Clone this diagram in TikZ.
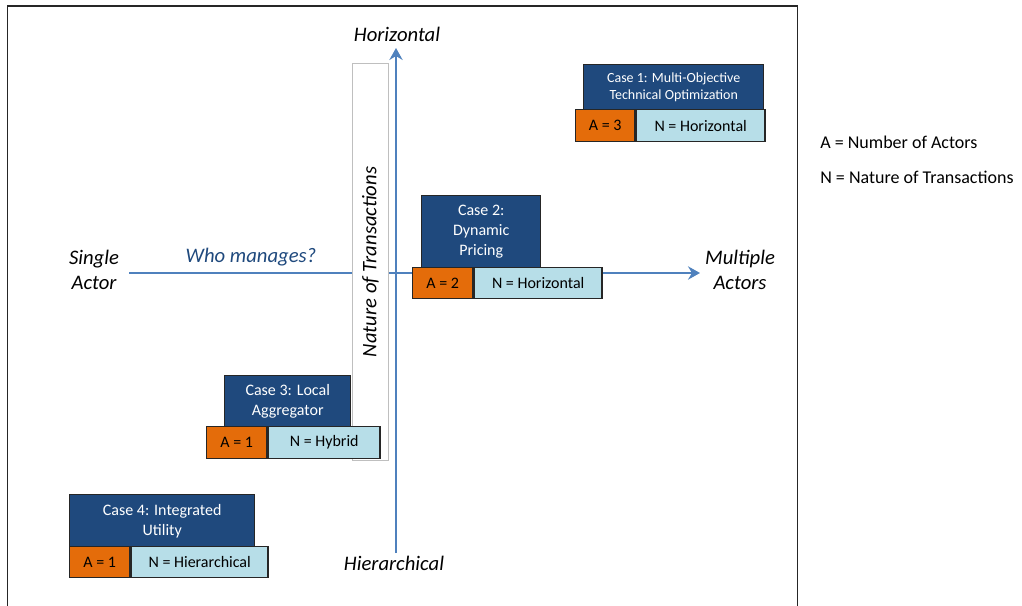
\documentclass[tikz,border=0pt]{standalone}
\usepackage{fontspec}
\setmainfont{Carlito}
\usetikzlibrary{arrows.meta}

\definecolor{casenavy}{RGB}{31,73,125}
\definecolor{axisblue}{RGB}{79,129,189}
\definecolor{actorange}{RGB}{228,108,10}
\definecolor{natlight}{RGB}{183,222,232}
\definecolor{panelgray}{RGB}{191,191,191}
\newcommand{\px}{0.75pt}

\tikzset{
    tile/.style={draw=black!85, line width=1.1pt, inner sep=0pt, anchor=north west, align=center},
    casebox/.style={tile, fill=casenavy, text=white, font=\fontsize{12}{15}\selectfont},
    actbox/.style={tile, fill=actorange, font=\fontsize{12}{15}\selectfont},
    natbox/.style={tile, fill=natlight, font=\fontsize{12}{15}\selectfont},
    axislabel/.style={align=center, font=\fontsize{15.5}{18.75}\selectfont\itshape},
    axisline/.style={draw=axisblue, line width=1.5pt, -{Stealth[length=9pt, width=10pt, inset=3pt]}},
    legendtext/.style={anchor=west, inner sep=0pt, font=\fontsize{13.5}{16}\selectfont}
}

\begin{document}
\begin{tikzpicture}[x=\px, y=-\px]
        \useasboundingbox (0,0) rectangle (1022,606);
        % frame, open at the bottom
        \draw[black!85, line width=1.1pt] (7.5,606) -- (7.5,6) -- (797.5,6) -- (797.5,606);

        % axes
        \coordinate (left) at (129,273);
        \coordinate (right) at (700,273);
        \coordinate (bottom) at (396,553);
        \coordinate (top) at (396,48);
        \draw[axisline] (left) -- (right);
        \draw[axisline] (bottom) -- (top);

        \node[axislabel] (horiz) at (397,34) {Horizontal};
        \node[axislabel] (hier) at (394,563) {Hierarchical};
        \node[axislabel] (single) at (94,270) {Single\\Actor};
        \node[axislabel] (multi) at (740,270) {Multiple\\Actors};
        \node[axislabel, text=casenavy] (who) at (251,257) {Who manages?};

        \node[draw=panelgray, fill=white, line width=0.75pt, inner sep=0pt, anchor=north west,
              minimum width=36*\px, minimum height=397*\px] (nature) at (352,63) {};
        \node[axislabel, rotate=90] (naturetext) at (nature.center) {Nature of Transactions};

        % case 1
        \node[casebox, minimum width=180*\px, minimum height=45*\px,
              font=\fontsize{10.5}{12.75}\selectfont] (case1) at (583,64)
              {Case 1: Multi-Objective\\Technical Optimization};
        \node[actbox, minimum width=59*\px, minimum height=32*\px] (act1) at (575,109) {A = 3};
        \node[natbox, minimum width=129*\px, minimum height=32*\px] (nat1) at (act1.north east) {N = Horizontal};

        % case 2
        \node[casebox, minimum width=119*\px, minimum height=72*\px] (case2) at (421,195)
              {Case 2:\\Dynamic\\Pricing};
        \node[actbox, minimum width=60*\px, minimum height=31*\px] (act2) at (412,267) {A = 2};
        \node[natbox, minimum width=128*\px, minimum height=31*\px] (nat2) at (act2.north east) {N = Horizontal};

        % case 3
        \node[casebox, minimum width=126*\px, minimum height=51*\px] (case3) at (224,375)
              {Case 3: Local\\Aggregator};
        \node[actbox, minimum width=60*\px, minimum height=32*\px] (act3) at (206,426) {A = 1};
        \node[natbox, minimum width=112*\px, minimum height=32*\px] (nat3) at (act3.north east) {N = Hybrid};

        % case 4
        \node[casebox, minimum width=185*\px, minimum height=52*\px] (case4) at (69,494)
              {Case 4: Integrated\\Utility};
        \node[actbox, minimum width=60*\px, minimum height=31*\px] (act4) at (69,546) {A = 1};
        \node[natbox, minimum width=137*\px, minimum height=31*\px] (nat4) at (act4.north east) {N = Hierarchical};

        % legend
        \node[legendtext] (legenda) at (820,142) {A = Number of Actors};
        \node[legendtext] (legendn) at (820,177) {N = Nature of Transactions};
\end{tikzpicture}
\end{document}
